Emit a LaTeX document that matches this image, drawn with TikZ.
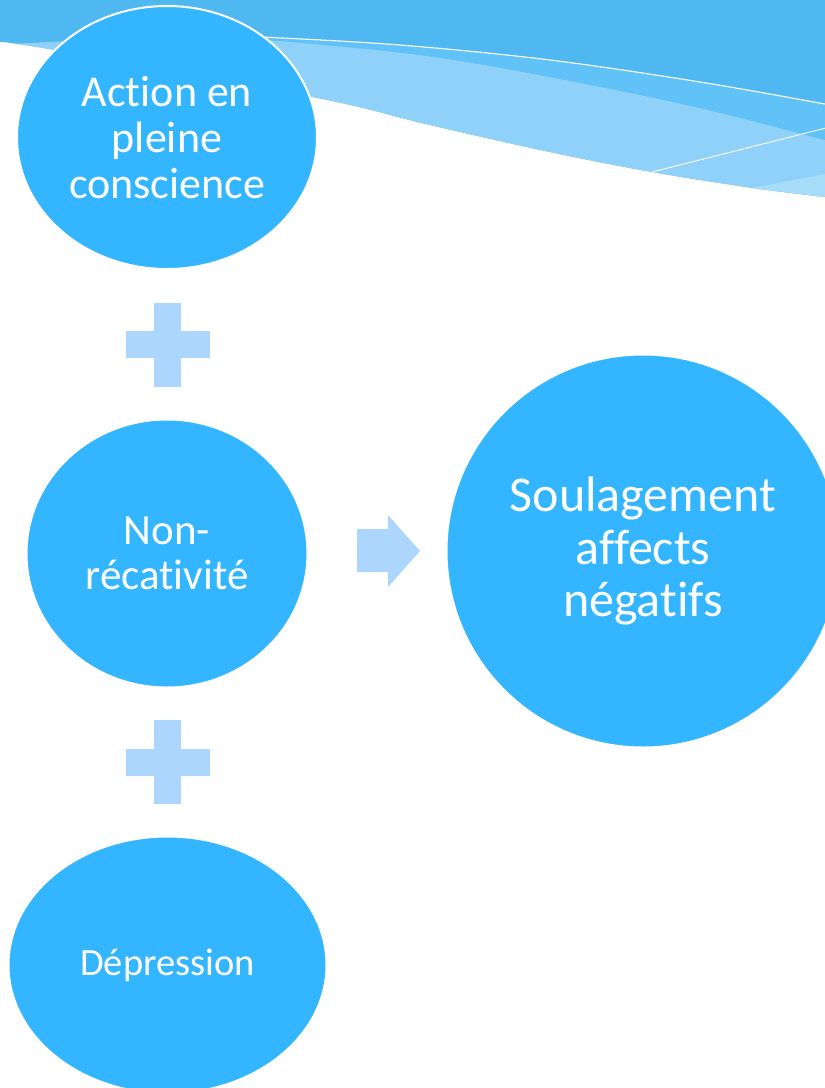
\documentclass[tikz,border=0pt]{standalone}
\usepackage{fontspec}
\setmainfont{Carlito}[RawFeature={-liga}]
\usetikzlibrary{shapes.geometric}
\definecolor{bubblefill}{HTML}{33B6FF}
\definecolor{opfill}{HTML}{ADD6FF}
\definecolor{banddark}{HTML}{50B8F0}
\definecolor{bandmid}{HTML}{60C2F6}
\definecolor{bandlight}{HTML}{8FD1F8}
\definecolor{bandlightest}{HTML}{A8DDFA}
\begin{document}
\begin{tikzpicture}[x=1pt,y=-1pt,
  bubble/.style={ellipse, fill=bubblefill, draw=white, line width=2pt,
    text=white, align=center, inner sep=0pt},
  opshape/.style={fill=opfill, draw=none},
  wline/.style={draw=white, line width=1.1pt}]
\useasboundingbox (0,0) rectangle (825,1088);
% decorative header bands
\begin{scope}
\clip (0,0) rectangle (825,1088);
\fill[banddark] plot[smooth, tension=0.6] coordinates {(0,42) (55,50) (313,97) (430,125) (550,152) (652,172) (753,188) (825,197)}
  -- (830,197) -- (830,-5) -- (-5,-5) -- (-5,42) -- cycle;
\fill[bandlight] plot[smooth, tension=0.6] coordinates {(12,44) (150,38) (268,40) (420,55) (550,77) (700,108) (825,140)}
  -- (830,140) -- (830,198)
  -- plot[smooth, tension=0.6] coordinates {(825,197) (753,188) (652,172) (550,152) (430,125) (313,97) (55,50) (12,44)} -- cycle;
\fill[bandmid] plot[smooth, tension=0.6] coordinates {(262,37) (400,45) (550,60) (700,82) (825,104)}
  -- (830,104) -- (830,140)
  -- plot[smooth, tension=0.6] coordinates {(825,140) (700,108) (550,77) (420,55) (268,40)} -- cycle;
\fill[bandlightest] (752,188) -- (825,174) -- (830,174) -- (830,198) -- (825,197) -- cycle;
\draw[wline] plot[smooth, tension=0.6] coordinates {(262,37) (400,45) (550,60) (700,82) (825,104) (830,105)};
\draw[wline, line width=0.9pt] (652,172) -- (830,127);
\end{scope}
% bubbles
\node[bubble, minimum width=300pt, minimum height=263pt, font=\fontsize{44}{46}\selectfont]
  (action) at (167,137.5) {Action en\\pleine\\conscience};
\node[bubble, minimum width=281pt, minimum height=268pt, font=\fontsize{43}{44.5}\selectfont]
  (nonreac) at (167,553.5) {Non-\\récativité};
\node[bubble, minimum width=318pt, minimum height=257pt, font=\fontsize{38.5}{40}\selectfont]
  (depr) at (167.5,965) {Dépression};
\node[bubble, minimum width=393pt, minimum height=393pt, font=\fontsize{50}{52.5}\selectfont]
  (soul) at (643,551) {Soulagement\\affects\\négatifs};
% operators
\coordinate (plusA) at (167.5,344.5);
\coordinate (plusB) at (167.5,762);
\coordinate (arrowC) at (388,551);
\foreach \p in {plusA,plusB}{
  \fill[opshape] ([shift={(-42,-13.5)}]\p) rectangle ([shift={(42,13.5)}]\p);
  \fill[opshape] ([shift={(-13.5,-42)}]\p) rectangle ([shift={(13.5,42)}]\p);
}
\fill[opshape] ([shift={(-31,-22)}]arrowC) -- ([shift={(0,-22)}]arrowC) -- ([shift={(0,-36)}]arrowC)
  -- ([shift={(32,0)}]arrowC) -- ([shift={(0,36)}]arrowC) -- ([shift={(0,21)}]arrowC)
  -- ([shift={(-31,21)}]arrowC) -- cycle;
\end{tikzpicture}
\end{document}
